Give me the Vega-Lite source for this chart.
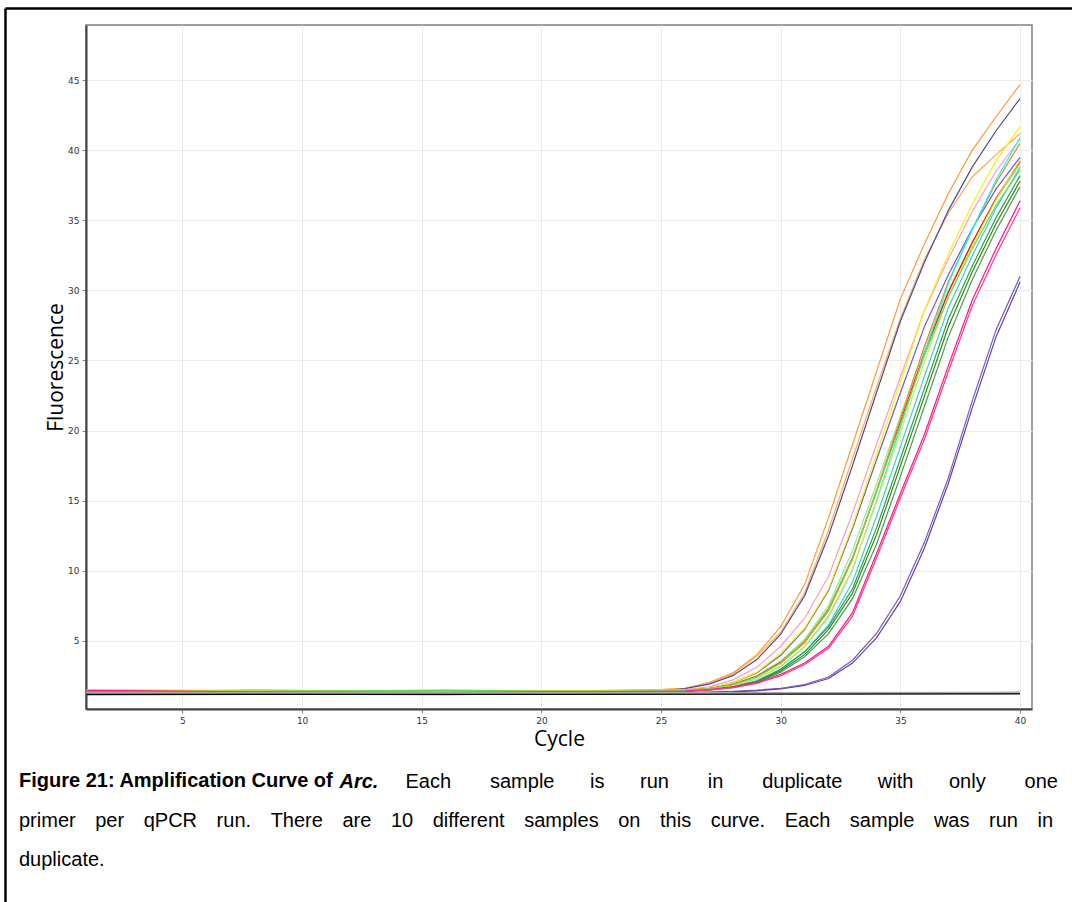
{
"$schema": "https://vega.github.io/schema/vega-lite/v6.json",
"autosize": "none",
"width": 946,
"height": 684,
"padding": {"left": 86, "top": 25, "right": 40, "bottom": 193},
"background": "white",
"title": {
  "text": ["primer \u2002\u2009per \u2002\u2009qPCR \u2002\u2009run. \u2002\u2009There \u2002\u2009are \u2002\u200910 \u2002\u2009different \u2002\u2009samples \u2002\u2009on \u2002\u2009this \u2002\u2009curve. \u2002\u2009Each \u2002\u2009sample \u2002\u2009was \u2002\u2009run \u2002\u2009in", "duplicate."],
  "subtitle": "Figure 21: Amplification Curve of",
  "orient": "top", "anchor": "start", "frame": "group", "baseline": "top",
  "dx": -67, "offset": -902,
  "font": "Liberation Sans", "fontSize": 20, "fontWeight": "normal", "color": "black", "lineHeight": 38.5,
  "subtitleFont": "Liberation Sans", "subtitleFontSize": 20, "subtitleFontWeight": "bold", "subtitleColor": "black",
  "subtitlePadding": -99
},
"datasets": {
"amp": [
{"s":"O1","c":1,"f":1.45},{"s":"O1","c":8,"f":1.42},{"s":"O1","c":16,"f":1.45},{"s":"O1","c":22,"f":1.4},{"s":"O1","c":25,"f":1.5},
{"s":"O1","c":26,"f":1.6},{"s":"O1","c":27,"f":2.0},{"s":"O1","c":28,"f":2.7},{"s":"O1","c":29,"f":4.0},{"s":"O1","c":30,"f":6.0},{"s":"O1","c":31,"f":9.0},{"s":"O1","c":32,"f":13.8},{"s":"O1","c":33,"f":19.0},{"s":"O1","c":34,"f":24.2},{"s":"O1","c":35,"f":29.4},{"s":"O1","c":36,"f":33.3},{"s":"O1","c":37,"f":36.9},{"s":"O1","c":38,"f":40.0},{"s":"O1","c":39,"f":42.4},{"s":"O1","c":40,"f":44.7},
{"s":"O2","c":1,"f":1.42},{"s":"O2","c":8,"f":1.45},{"s":"O2","c":16,"f":1.4},{"s":"O2","c":22,"f":1.44},{"s":"O2","c":25,"f":1.5},
{"s":"O2","c":26,"f":1.6},{"s":"O2","c":27,"f":2.0},{"s":"O2","c":28,"f":2.6},{"s":"O2","c":29,"f":3.9},{"s":"O2","c":30,"f":5.6},{"s":"O2","c":31,"f":8.4},{"s":"O2","c":32,"f":12.9},{"s":"O2","c":33,"f":18.0},{"s":"O2","c":34,"f":23.1},{"s":"O2","c":35,"f":28.0},{"s":"O2","c":36,"f":32.2},{"s":"O2","c":37,"f":35.5},{"s":"O2","c":38,"f":38.1},{"s":"O2","c":39,"f":39.7},{"s":"O2","c":40,"f":41.2},
{"s":"N1","c":1,"f":1.3},{"s":"N1","c":8,"f":1.28},{"s":"N1","c":16,"f":1.32},{"s":"N1","c":22,"f":1.3},{"s":"N1","c":25,"f":1.42},
{"s":"N1","c":26,"f":1.57},{"s":"N1","c":27,"f":1.9},{"s":"N1","c":28,"f":2.5},{"s":"N1","c":29,"f":3.65},{"s":"N1","c":30,"f":5.46},{"s":"N1","c":31,"f":8.2},{"s":"N1","c":32,"f":12.5},{"s":"N1","c":33,"f":17.5},{"s":"N1","c":34,"f":22.7},{"s":"N1","c":35,"f":27.8},{"s":"N1","c":36,"f":32.0},{"s":"N1","c":37,"f":35.7},{"s":"N1","c":38,"f":38.8},{"s":"N1","c":39,"f":41.4},{"s":"N1","c":40,"f":43.7},
{"s":"P1","c":1,"f":1.48},{"s":"P1","c":8,"f":1.38},{"s":"P1","c":16,"f":1.35},{"s":"P1","c":22,"f":1.4},{"s":"P1","c":25,"f":1.45},
{"s":"P1","c":26,"f":1.5},{"s":"P1","c":27,"f":1.7},{"s":"P1","c":28,"f":2.2},{"s":"P1","c":29,"f":3.1},{"s":"P1","c":30,"f":4.6},{"s":"P1","c":31,"f":6.6},{"s":"P1","c":32,"f":9.6},{"s":"P1","c":33,"f":14.1},{"s":"P1","c":34,"f":19.0},{"s":"P1","c":35,"f":23.8},{"s":"P1","c":36,"f":28.54},{"s":"P1","c":37,"f":32.24},{"s":"P1","c":38,"f":35.63},{"s":"P1","c":39,"f":38.53},{"s":"P1","c":40,"f":40.8},
{"s":"N2","c":1,"f":1.25},{"s":"N2","c":8,"f":1.3},{"s":"N2","c":16,"f":1.27},{"s":"N2","c":22,"f":1.33},{"s":"N2","c":25,"f":1.42},
{"s":"N2","c":26,"f":1.49},{"s":"N2","c":27,"f":1.6},{"s":"N2","c":28,"f":2.0},{"s":"N2","c":29,"f":2.7},{"s":"N2","c":30,"f":3.95},{"s":"N2","c":31,"f":5.8},{"s":"N2","c":32,"f":8.6},{"s":"N2","c":33,"f":13.0},{"s":"N2","c":34,"f":17.9},{"s":"N2","c":35,"f":22.7},{"s":"N2","c":36,"f":27.4},{"s":"N2","c":37,"f":31.1},{"s":"N2","c":38,"f":34.4},{"s":"N2","c":39,"f":37.25},{"s":"N2","c":40,"f":39.5},
{"s":"Y1","c":1,"f":1.45},{"s":"Y1","c":8,"f":1.4},{"s":"Y1","c":16,"f":1.42},{"s":"Y1","c":22,"f":1.4},{"s":"Y1","c":25,"f":1.45},
{"s":"Y1","c":26,"f":1.49},{"s":"Y1","c":27,"f":1.62},{"s":"Y1","c":28,"f":2.0},{"s":"Y1","c":29,"f":2.75},{"s":"Y1","c":30,"f":4.1},{"s":"Y1","c":31,"f":5.9},{"s":"Y1","c":32,"f":8.7},{"s":"Y1","c":33,"f":13.19},{"s":"Y1","c":34,"f":18.29},{"s":"Y1","c":35,"f":23.43},{"s":"Y1","c":36,"f":28.58},{"s":"Y1","c":37,"f":32.56},{"s":"Y1","c":38,"f":36.15},{"s":"Y1","c":39,"f":39.27},{"s":"Y1","c":40,"f":41.7},
{"s":"G1","c":1,"f":1.35},{"s":"G1","c":8,"f":1.42},{"s":"G1","c":16,"f":1.36},{"s":"G1","c":22,"f":1.4},{"s":"G1","c":25,"f":1.42},
{"s":"G1","c":26,"f":1.45},{"s":"G1","c":27,"f":1.58},{"s":"G1","c":28,"f":1.9},{"s":"G1","c":29,"f":2.5},{"s":"G1","c":30,"f":3.55},{"s":"G1","c":31,"f":5.1},{"s":"G1","c":32,"f":7.52},{"s":"G1","c":33,"f":11.43},{"s":"G1","c":34,"f":16.16},{"s":"G1","c":35,"f":21.03},{"s":"G1","c":36,"f":25.9},{"s":"G1","c":37,"f":29.98},{"s":"G1","c":38,"f":33.44},{"s":"G1","c":39,"f":36.51},{"s":"G1","c":40,"f":39.0},
{"s":"R1","c":1,"f":1.38},{"s":"R1","c":8,"f":1.45},{"s":"R1","c":16,"f":1.4},{"s":"R1","c":22,"f":1.38},{"s":"R1","c":25,"f":1.42},
{"s":"R1","c":26,"f":1.44},{"s":"R1","c":27,"f":1.57},{"s":"R1","c":28,"f":1.86},{"s":"R1","c":29,"f":2.45},{"s":"R1","c":30,"f":3.45},{"s":"R1","c":31,"f":4.95},{"s":"R1","c":32,"f":7.25},{"s":"R1","c":33,"f":10.9},{"s":"R1","c":34,"f":15.65},{"s":"R1","c":35,"f":20.59},{"s":"R1","c":36,"f":25.53},{"s":"R1","c":37,"f":29.85},{"s":"R1","c":38,"f":33.41},{"s":"R1","c":39,"f":36.59},{"s":"R1","c":40,"f":39.2},
{"s":"R2","c":1,"f":1.4},{"s":"R2","c":8,"f":1.36},{"s":"R2","c":16,"f":1.46},{"s":"R2","c":22,"f":1.4},{"s":"R2","c":25,"f":1.42},
{"s":"R2","c":26,"f":1.44},{"s":"R2","c":27,"f":1.56},{"s":"R2","c":28,"f":1.82},{"s":"R2","c":29,"f":2.4},{"s":"R2","c":30,"f":3.38},{"s":"R2","c":31,"f":4.85},{"s":"R2","c":32,"f":7.13},{"s":"R2","c":33,"f":10.8},{"s":"R2","c":34,"f":15.7},{"s":"R2","c":35,"f":20.84},{"s":"R2","c":36,"f":25.98},{"s":"R2","c":37,"f":30.6},{"s":"R2","c":38,"f":34.34},{"s":"R2","c":39,"f":37.7},{"s":"R2","c":40,"f":40.5},
{"s":"C1","c":1,"f":1.3},{"s":"C1","c":8,"f":1.32},{"s":"C1","c":16,"f":1.35},{"s":"C1","c":22,"f":1.32},{"s":"C1","c":25,"f":1.38},
{"s":"C1","c":26,"f":1.42},{"s":"C1","c":27,"f":1.54},{"s":"C1","c":28,"f":1.75},{"s":"C1","c":29,"f":2.28},{"s":"C1","c":30,"f":3.15},{"s":"C1","c":31,"f":4.55},{"s":"C1","c":32,"f":6.7},{"s":"C1","c":33,"f":10.05},{"s":"C1","c":34,"f":14.98},{"s":"C1","c":35,"f":20.23},{"s":"C1","c":36,"f":25.48},{"s":"C1","c":37,"f":30.47},{"s":"C1","c":38,"f":34.35},{"s":"C1","c":39,"f":37.88},{"s":"C1","c":40,"f":40.9},
{"s":"C2","c":1,"f":1.22},{"s":"C2","c":8,"f":1.25},{"s":"C2","c":16,"f":1.28},{"s":"C2","c":22,"f":1.3},{"s":"C2","c":25,"f":1.36},
{"s":"C2","c":26,"f":1.41},{"s":"C2","c":27,"f":1.52},{"s":"C2","c":28,"f":1.7},{"s":"C2","c":29,"f":2.15},{"s":"C2","c":30,"f":2.95},{"s":"C2","c":31,"f":4.2},{"s":"C2","c":32,"f":6.12},{"s":"C2","c":33,"f":9.18},{"s":"C2","c":34,"f":13.84},{"s":"C2","c":35,"f":18.85},{"s":"C2","c":36,"f":23.85},{"s":"C2","c":37,"f":28.74},{"s":"C2","c":38,"f":32.46},{"s":"C2","c":39,"f":35.88},{"s":"C2","c":40,"f":38.8},
{"s":"G2","c":1,"f":1.28},{"s":"G2","c":8,"f":1.25},{"s":"G2","c":16,"f":1.3},{"s":"G2","c":22,"f":1.32},{"s":"G2","c":25,"f":1.36},
{"s":"G2","c":26,"f":1.4},{"s":"G2","c":27,"f":1.52},{"s":"G2","c":28,"f":1.7},{"s":"G2","c":29,"f":2.1},{"s":"G2","c":30,"f":2.95},{"s":"G2","c":31,"f":4.2},{"s":"G2","c":32,"f":6.0},{"s":"G2","c":33,"f":8.7},{"s":"G2","c":34,"f":13.03},{"s":"G2","c":35,"f":17.99},{"s":"G2","c":36,"f":22.97},{"s":"G2","c":37,"f":27.94},{"s":"G2","c":38,"f":31.73},{"s":"G2","c":39,"f":35.2},{"s":"G2","c":40,"f":38.2},
{"s":"G3","c":1,"f":1.2},{"s":"G3","c":8,"f":1.22},{"s":"G3","c":16,"f":1.25},{"s":"G3","c":22,"f":1.28},{"s":"G3","c":25,"f":1.35},
{"s":"G3","c":26,"f":1.4},{"s":"G3","c":27,"f":1.5},{"s":"G3","c":28,"f":1.68},{"s":"G3","c":29,"f":2.05},{"s":"G3","c":30,"f":2.85},{"s":"G3","c":31,"f":4.0},{"s":"G3","c":32,"f":5.8},{"s":"G3","c":33,"f":8.4},{"s":"G3","c":34,"f":12.55},{"s":"G3","c":35,"f":17.46},{"s":"G3","c":36,"f":22.42},{"s":"G3","c":37,"f":27.39},{"s":"G3","c":38,"f":31.31},{"s":"G3","c":39,"f":34.78},{"s":"G3","c":40,"f":37.8},
{"s":"G4","c":1,"f":1.18},{"s":"G4","c":8,"f":1.2},{"s":"G4","c":16,"f":1.22},{"s":"G4","c":22,"f":1.25},{"s":"G4","c":25,"f":1.33},
{"s":"G4","c":26,"f":1.4},{"s":"G4","c":27,"f":1.49},{"s":"G4","c":28,"f":1.65},{"s":"G4","c":29,"f":2.0},{"s":"G4","c":30,"f":2.75},{"s":"G4","c":31,"f":3.85},{"s":"G4","c":32,"f":5.5},{"s":"G4","c":33,"f":8.0},{"s":"G4","c":34,"f":11.87},{"s":"G4","c":35,"f":16.73},{"s":"G4","c":36,"f":21.7},{"s":"G4","c":37,"f":26.67},{"s":"G4","c":38,"f":30.77},{"s":"G4","c":39,"f":34.3},{"s":"G4","c":40,"f":37.4},
{"s":"Y2","c":1,"f":1.5},{"s":"Y2","c":8,"f":1.44},{"s":"Y2","c":16,"f":1.4},{"s":"Y2","c":22,"f":1.42},{"s":"Y2","c":25,"f":1.42},
{"s":"Y2","c":26,"f":1.43},{"s":"Y2","c":27,"f":1.55},{"s":"Y2","c":28,"f":1.78},{"s":"Y2","c":29,"f":2.3},{"s":"Y2","c":30,"f":3.2},{"s":"Y2","c":31,"f":4.6},{"s":"Y2","c":32,"f":6.8},{"s":"Y2","c":33,"f":10.11},{"s":"Y2","c":34,"f":14.85},{"s":"Y2","c":35,"f":19.87},{"s":"Y2","c":36,"f":24.88},{"s":"Y2","c":37,"f":29.52},{"s":"Y2","c":38,"f":33.19},{"s":"Y2","c":39,"f":36.51},{"s":"Y2","c":40,"f":39.3},
{"s":"G5","c":1,"f":1.33},{"s":"G5","c":8,"f":1.4},{"s":"G5","c":16,"f":1.45},{"s":"G5","c":22,"f":1.38},{"s":"G5","c":25,"f":1.42},
{"s":"G5","c":26,"f":1.44},{"s":"G5","c":27,"f":1.57},{"s":"G5","c":28,"f":1.85},{"s":"G5","c":29,"f":2.42},{"s":"G5","c":30,"f":3.4},{"s":"G5","c":31,"f":4.95},{"s":"G5","c":32,"f":7.3},{"s":"G5","c":33,"f":10.94},{"s":"G5","c":34,"f":15.62},{"s":"G5","c":35,"f":20.46},{"s":"G5","c":36,"f":25.31},{"s":"G5","c":37,"f":29.49},{"s":"G5","c":38,"f":32.97},{"s":"G5","c":39,"f":36.07},{"s":"G5","c":40,"f":38.6},
{"s":"H1","c":1,"f":1.45},{"s":"H1","c":8,"f":1.33},{"s":"H1","c":16,"f":1.3},{"s":"H1","c":22,"f":1.35},{"s":"H1","c":25,"f":1.38},
{"s":"H1","c":26,"f":1.4},{"s":"H1","c":27,"f":1.5},{"s":"H1","c":28,"f":1.7},{"s":"H1","c":29,"f":2.0},{"s":"H1","c":30,"f":2.6},{"s":"H1","c":31,"f":3.4},{"s":"H1","c":32,"f":4.6},{"s":"H1","c":33,"f":7.0},{"s":"H1","c":34,"f":11.2},{"s":"H1","c":35,"f":15.5},{"s":"H1","c":36,"f":19.7},{"s":"H1","c":37,"f":24.6},{"s":"H1","c":38,"f":29.3},{"s":"H1","c":39,"f":33.0},{"s":"H1","c":40,"f":36.4},
{"s":"H2","c":1,"f":1.4},{"s":"H2","c":8,"f":1.3},{"s":"H2","c":16,"f":1.27},{"s":"H2","c":22,"f":1.32},{"s":"H2","c":25,"f":1.36},
{"s":"H2","c":26,"f":1.38},{"s":"H2","c":27,"f":1.47},{"s":"H2","c":28,"f":1.65},{"s":"H2","c":29,"f":1.95},{"s":"H2","c":30,"f":2.5},{"s":"H2","c":31,"f":3.3},{"s":"H2","c":32,"f":4.45},{"s":"H2","c":33,"f":6.75},{"s":"H2","c":34,"f":10.9},{"s":"H2","c":35,"f":15.2},{"s":"H2","c":36,"f":19.35},{"s":"H2","c":37,"f":24.2},{"s":"H2","c":38,"f":28.9},{"s":"H2","c":39,"f":32.55},{"s":"H2","c":40,"f":35.9},
{"s":"V1","c":1,"f":1.3},{"s":"V1","c":8,"f":1.25},{"s":"V1","c":16,"f":1.2},{"s":"V1","c":22,"f":1.22},{"s":"V1","c":25,"f":1.28},
{"s":"V1","c":26,"f":1.3},{"s":"V1","c":27,"f":1.33},{"s":"V1","c":28,"f":1.38},{"s":"V1","c":29,"f":1.47},{"s":"V1","c":30,"f":1.6},{"s":"V1","c":31,"f":1.87},{"s":"V1","c":32,"f":2.4},{"s":"V1","c":33,"f":3.6},{"s":"V1","c":34,"f":5.5},{"s":"V1","c":35,"f":8.2},{"s":"V1","c":36,"f":12.0},{"s":"V1","c":37,"f":16.6},{"s":"V1","c":38,"f":22.1},{"s":"V1","c":39,"f":27.2},{"s":"V1","c":40,"f":31.0},
{"s":"V2","c":1,"f":1.22},{"s":"V2","c":8,"f":1.18},{"s":"V2","c":16,"f":1.15},{"s":"V2","c":22,"f":1.2},{"s":"V2","c":25,"f":1.26},
{"s":"V2","c":26,"f":1.28},{"s":"V2","c":27,"f":1.3},{"s":"V2","c":28,"f":1.35},{"s":"V2","c":29,"f":1.42},{"s":"V2","c":30,"f":1.55},{"s":"V2","c":31,"f":1.8},{"s":"V2","c":32,"f":2.3},{"s":"V2","c":33,"f":3.4},{"s":"V2","c":34,"f":5.2},{"s":"V2","c":35,"f":7.8},{"s":"V2","c":36,"f":11.6},{"s":"V2","c":37,"f":16.2},{"s":"V2","c":38,"f":21.6},{"s":"V2","c":39,"f":26.7},{"s":"V2","c":40,"f":30.6}
],
"ntc": [
{"s":"K1","c":1,"f":1.22},{"s":"K1","c":20,"f":1.2},{"s":"K1","c":35.5,"f":1.24},{"s":"K1","c":40,"f":1.25},
{"s":"K2","c":1,"f":1.15},{"s":"K2","c":20,"f":1.17},{"s":"K2","c":40,"f":1.2},
{"s":"K3","c":1,"f":1.3},{"s":"K3","c":20,"f":1.28},{"s":"K3","c":38.5,"f":1.3},{"s":"K3","c":40,"f":1.32}
]
},
"layer": [
  {
    "data": {"name": "amp"},
    "mark": {"type": "line", "strokeWidth": 1.2},
    "encoding": {
      "x": {"field": "c", "type": "quantitative",
        "scale": {"domain": [0.97, 40.5], "nice": false, "zero": false},
        "axis": {"values": [5,10,15,20,25,30,35,40], "title": "Cycle", "titlePadding": 3}},
      "y": {"field": "f", "type": "quantitative",
        "scale": {"domain": [0.12, 48.95], "nice": false, "zero": false},
        "axis": {"values": [5,10,15,20,25,30,35,40,45], "title": "Fluorescence", "titlePadding": 1}},
      "color": {"field": "s", "type": "nominal", "legend": null,
        "scale": {"domain": ["O1","O2","N1","P1","N2","Y1","G1","R1","R2","C1","C2","G2","G3","G4","Y2","G5","H1","H2","V1","V2","K1","K2","K3"],
                  "range": ["#FF9933","#FFAA55","#4B4B9B","#FF99CC","#6A5ACD","#F5F500","#90EE90","#FF0000","#FF7F27","#00FFFF","#33CCEE","#33A033","#228B22","#4E9A4E","#E6E62E","#66DD55","#FF1480","#FF3399","#7E57C2","#6040A8","#808080","#000000","#A9A9A9"]}}
    }
  },
  {
    "data": {"name": "ntc"},
    "mark": {"type": "line", "strokeWidth": 1.3},
    "encoding": {
      "x": {"field": "c", "type": "quantitative",
        "scale": {"domain": [-2.415, 42.506], "range": [-81, 994], "nice": false, "zero": false},
        "axis": {"orient": "top", "offset": 17, "domain": true, "domainColor": "black", "domainWidth": 2.5,
          "ticks": false, "labels": false, "grid": false,
          "title": "Each \u2003\u2002\u2006sample \u2003\u2002is \u2003\u2002run \u2003\u2002\u2006in \u2003\u2002\u2006duplicate \u2003\u2002with \u2003\u2002only \u2003\u2002\u2006one",
          "titleX": 319, "titleY": 779, "titleAngle": 0, "titleAlign": "left", "titleBaseline": "alphabetic",
          "titleFont": "Liberation Sans", "titleFontSize": 20, "titleFontWeight": "normal", "titleColor": "black"}},
      "y": {"field": "f", "type": "quantitative",
        "scale": {"domain": [-13.658, 50.163], "range": [877, -17], "nice": false, "zero": false},
        "axis": {"orient": "left", "offset": 81, "domain": true, "domainColor": "black", "domainWidth": 2.5,
          "ticks": false, "labels": false, "grid": false,
          "title": "Arc.",
          "titleX": 334, "titleY": 762, "titleAngle": 0, "titleAlign": "left", "titleBaseline": "alphabetic",
          "titleFont": "Liberation Sans", "titleFontSize": 20, "titleFontWeight": "bold", "titleFontStyle": "italic", "titleColor": "black"}},
      "color": {"field": "s", "type": "nominal", "legend": null}
    }
  }
],
"resolve": {"scale": {"x": "independent", "y": "independent"}},
"config": {
  "view": {"stroke": "#808080", "strokeWidth": 1.5},
  "axis": {
    "grid": true, "gridColor": "#EBEBEB", "gridWidth": 1,
    "domainColor": "#404040", "domainWidth": 2,
    "tickColor": "#888888", "tickSize": 4, "tickWidth": 1,
    "labelFont": "DejaVu Sans", "labelFontSize": 9, "labelColor": "#333333", "labelPadding": 3,
    "titleFont": "Open Sans", "titleFontSize": 21, "titleFontWeight": "normal", "titleColor": "black"
  }
}
}
